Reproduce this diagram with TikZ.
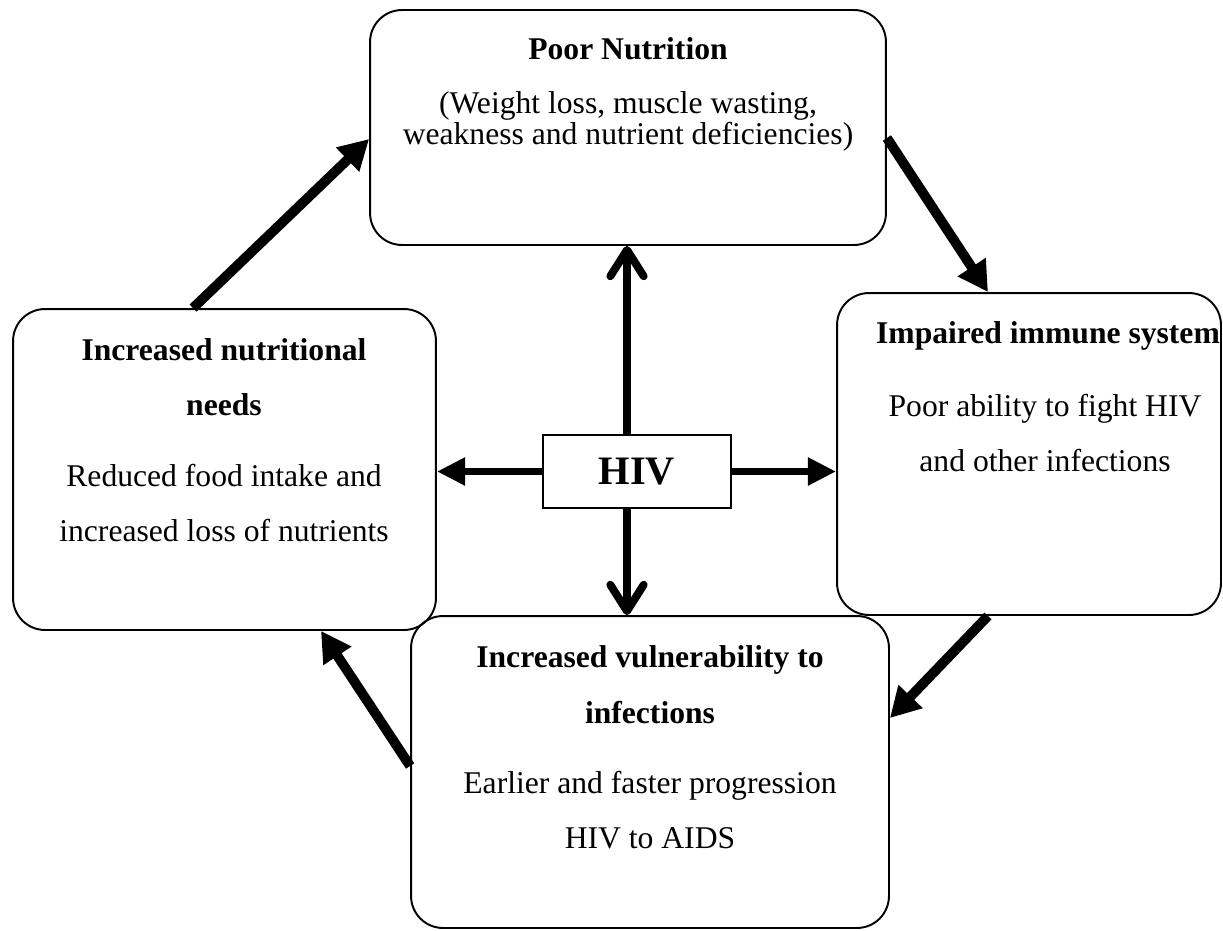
\documentclass[tikz,border=0pt]{standalone}
\usepackage{fontspec}
\setmainfont{Liberation Serif}
\usetikzlibrary{arrows.meta}
\begin{document}
\begin{tikzpicture}[x=0.02cm, y=-0.02cm,
  box/.style={draw, line width=1.1pt, rounded corners=0.64cm, inner sep=0pt},
  hivbox/.style={draw, line width=1pt, inner sep=0pt, minimum width=3.76cm, minimum height=1.46cm,
    font=\fontsize{23}{27}\selectfont\bfseries},
  txt/.style={anchor=base, inner sep=0pt, font=\fontsize{18}{21}\selectfont},
  ttl/.style={anchor=base, inner sep=0pt, font=\fontsize{18}{21}\selectfont\bfseries},
  cycle arrow/.style={line width=5.6pt, -{Triangle[length=17pt,width=18pt]}},
  side arrow/.style={line width=4.5pt, -{Triangle[length=16pt,width=15pt]}},
  vert arrow/.style={line width=4.5pt, -{Straight Barb[length=15pt,width=19pt,round]}}]
\useasboundingbox (0,0) rectangle (1223,930);

% boxes
\node[box, minimum width=10.32cm, minimum height=4.7cm] (pn) at (628,127.5) {};
\node[box, minimum width=8.46cm, minimum height=6.42cm] (inn) at (224.5,469.5) {};
\node[box, minimum width=7.68cm, minimum height=6.44cm] (iis) at (1029,454) {};
\node[box, minimum width=9.56cm, minimum height=6.24cm] (ivi) at (650,772) {};
\node[hivbox] (hiv) at (637,471.5) {HIV};

% texts
\node[ttl] (pn-t) at (628,59) {Poor Nutrition};
\node[txt] (pn-a) at (628,113) {(Weight loss, muscle wasting,};
\node[txt] (pn-b) at (628,144) {weakness and nutrient deficiencies)};

\node[ttl] (inn-t) at (224,360) {Increased nutritional};
\node[ttl] (inn-u) at (224,415) {needs};
\node[txt] (inn-a) at (224,486) {Reduced food intake and};
\node[txt] (inn-b) at (224,541) {increased loss of nutrients};

\node[ttl] (iis-t) at (1048,343) {Impaired immune system};
\node[txt] (iis-a) at (1045,416) {Poor ability to fight HIV};
\node[txt] (iis-b) at (1045,471) {and other infections};

\node[ttl] (ivi-t) at (650,667) {Increased vulnerability to};
\node[ttl] (ivi-u) at (650,723) {infections};
\node[txt] (ivi-a) at (650,793) {Earlier and faster progression};
\node[txt] (ivi-b) at (650,848) {HIV to AIDS};

% arrows out of HIV
\coordinate (vx) at (627,0);
\draw[vert arrow] (hiv.north -| vx) -- (pn.south -| vx);
\draw[vert arrow] (hiv.south -| vx) -- (ivi.north -| vx);
\draw[side arrow] (hiv.west) -- (hiv.west -| inn.east);
\draw[side arrow] (hiv.east) -- (hiv.east -| iis.west);

% the cycle
\draw[cycle arrow] (inn.north -| 193,0) -- (pn.west |- 0,139);
\draw[cycle arrow] (pn.east |- 0,138) -- (iis.north -| 988,0);
\draw[cycle arrow] (iis.south -| 988,0) -- (ivi.east |- 0,718);
\draw[cycle arrow] (ivi.west |- 0,766) -- (inn.south -| 321,0);
\end{tikzpicture}
\end{document}
